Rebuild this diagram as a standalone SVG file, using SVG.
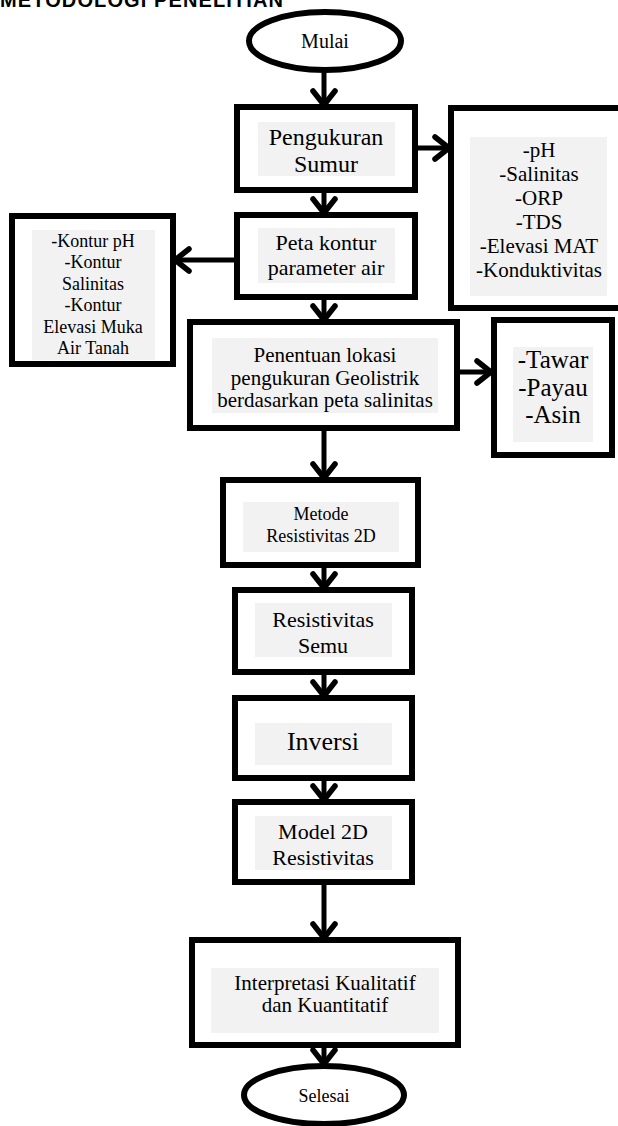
<svg xmlns="http://www.w3.org/2000/svg" width="618" height="1126" viewBox="0 0 618 1126">
<style>
.box{fill:#fff;stroke:#000;stroke-width:6}
.hl{fill:#f2f2f2}
.t{font-family:"Liberation Serif",serif;fill:#000;text-anchor:middle}
.conn{stroke:#000;stroke-width:5;fill:none}
.title{font-family:"Liberation Sans",sans-serif;font-weight:bold;font-size:20px;fill:#000}
</style>
<defs>
<marker id="ah" markerUnits="userSpaceOnUse" markerWidth="28" markerHeight="28" viewBox="0 0 28 28" refX="23" refY="14" orient="auto">
<path d="M9,3 L23,14 L9,25" fill="none" stroke="#000" stroke-width="5.5" stroke-linecap="round" stroke-linejoin="miter"/>
</marker>
</defs>
<rect width="618" height="1126" fill="#fff"/>
<text class="title" x="0" y="7" textLength="283">METODOLOGI PENELITIAN</text>

<g id="connectors">
<line class="conn" x1="324" y1="70" x2="324" y2="105" marker-end="url(#ah)"/>
<line class="conn" x1="415" y1="148" x2="449" y2="148" marker-end="url(#ah)"/>
<line class="conn" x1="324" y1="190" x2="324" y2="213" marker-end="url(#ah)"/>
<line class="conn" x1="237" y1="260" x2="175" y2="260" marker-end="url(#ah)"/>
<line class="conn" x1="324" y1="297" x2="324" y2="320" marker-end="url(#ah)"/>
<line class="conn" x1="457" y1="372" x2="491" y2="372" marker-end="url(#ah)"/>
<line class="conn" x1="324" y1="428" x2="324" y2="478" marker-end="url(#ah)"/>
<line class="conn" x1="324" y1="565" x2="324" y2="588" marker-end="url(#ah)"/>
<line class="conn" x1="324" y1="672" x2="324" y2="696" marker-end="url(#ah)"/>
<line class="conn" x1="324" y1="778" x2="324" y2="800" marker-end="url(#ah)"/>
<line class="conn" x1="324" y1="882" x2="324" y2="938" marker-end="url(#ah)"/>
<line class="conn" x1="324" y1="1045" x2="324" y2="1064" marker-end="url(#ah)"/>
</g>

<g id="mulai">
<ellipse class="box" cx="325" cy="41" rx="76" ry="29"/>
<text class="t" x="325" y="48" font-size="20">Mulai</text>
</g>

<g id="pengukuran">
<rect class="box" x="237" y="107" width="178" height="83"/>
<rect class="hl" x="258" y="122" width="137" height="54"/>
<text class="t" x="326" y="145" font-size="24">Pengukuran</text>
<text class="t" x="326" y="172" font-size="24">Sumur</text>
</g>

<g id="parameter">
<rect class="box" x="451" y="108" width="172" height="200"/>
<rect class="hl" x="470" y="137" width="137" height="159"/>
<text class="t" x="539" y="157" font-size="21">-pH</text>
<text class="t" x="539" y="181" font-size="21">-Salinitas</text>
<text class="t" x="539" y="205" font-size="21">-ORP</text>
<text class="t" x="539" y="229" font-size="21">-TDS</text>
<text class="t" x="539" y="253" font-size="21">-Elevasi MAT</text>
<text class="t" x="539" y="277" font-size="21">-Konduktivitas</text>
</g>

<g id="petakontur">
<rect class="box" x="237" y="215" width="178" height="82"/>
<rect class="hl" x="258" y="228" width="137" height="55"/>
<text class="t" x="326" y="250" font-size="22">Peta kontur</text>
<text class="t" x="326" y="275" font-size="22">parameter air</text>
</g>

<g id="kontur">
<rect class="box" x="12" y="216" width="161" height="148"/>
<rect class="hl" x="32" y="230" width="123" height="130"/>
<text class="t" x="93" y="247" font-size="18">-Kontur pH</text>
<text class="t" x="93" y="268" font-size="18">-Kontur</text>
<text class="t" x="93" y="290" font-size="18">Salinitas</text>
<text class="t" x="93" y="311" font-size="18">-Kontur</text>
<text class="t" x="93" y="333" font-size="18">Elevasi Muka</text>
<text class="t" x="93" y="354" font-size="18">Air Tanah</text>
</g>

<g id="penentuan">
<rect class="box" x="190" y="322" width="267" height="106"/>
<rect class="hl" x="212" y="338" width="226" height="75"/>
<text class="t" x="325" y="362" font-size="21">Penentuan lokasi</text>
<text class="t" x="325" y="385" font-size="21">pengukuran Geolistrik</text>
<text class="t" x="325" y="407" font-size="21">berdasarkan peta salinitas</text>
</g>

<g id="salinitas">
<rect class="box" x="494" y="320" width="118" height="135"/>
<rect class="hl" x="513" y="347" width="80" height="95"/>
<text class="t" x="553" y="368" font-size="25">-Tawar</text>
<text class="t" x="553" y="396" font-size="25">-Payau</text>
<text class="t" x="553" y="423" font-size="25">-Asin</text>
</g>

<g id="metode">
<rect class="box" x="223" y="480" width="195" height="85"/>
<rect class="hl" x="243" y="502" width="156" height="50"/>
<text class="t" x="321" y="520" font-size="18">Metode</text>
<text class="t" x="321" y="542" font-size="18">Resistivitas 2D</text>
</g>

<g id="semu">
<rect class="box" x="235" y="590" width="177" height="82"/>
<rect class="hl" x="255" y="603" width="137" height="54"/>
<text class="t" x="323" y="627" font-size="22">Resistivitas</text>
<text class="t" x="323" y="653" font-size="22">Semu</text>
</g>

<g id="inversi">
<rect class="box" x="235" y="698" width="177" height="80"/>
<rect class="hl" x="255" y="723" width="137" height="42"/>
<text class="t" x="323" y="750" font-size="26">Inversi</text>
</g>

<g id="model">
<rect class="box" x="235" y="802" width="177" height="80"/>
<rect class="hl" x="255" y="816" width="137" height="54"/>
<text class="t" x="323" y="839" font-size="22">Model 2D</text>
<text class="t" x="323" y="865" font-size="22">Resistivitas</text>
</g>

<g id="interpretasi">
<rect class="box" x="192" y="940" width="266" height="105"/>
<rect class="hl" x="211" y="968" width="228" height="65"/>
<text class="t" x="325" y="990" font-size="21">Interpretasi Kualitatif</text>
<text class="t" x="325" y="1012" font-size="21">dan Kuantitatif</text>
</g>

<g id="selesai">
<ellipse class="box" cx="324" cy="1095" rx="80" ry="29"/>
<text class="t" x="324" y="1102" font-size="18">Selesai</text>
</g>
</svg>
